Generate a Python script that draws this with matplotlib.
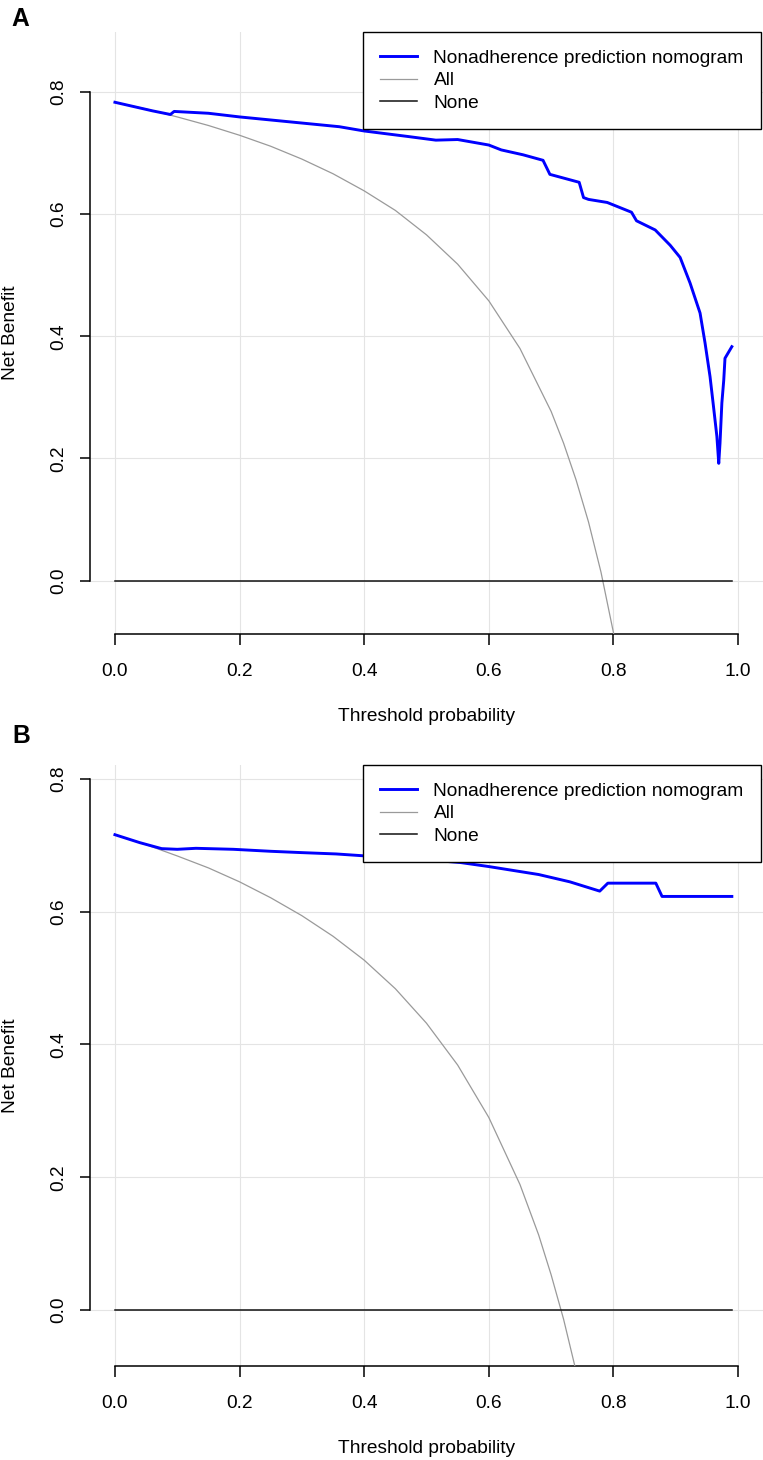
import numpy as np
import matplotlib.pyplot as plt

plt.rcParams['font.family'] = ['Liberation Sans', 'DejaVu Sans']

# Panel A - decision curve values
a_thr = [0.00, 0.03, 0.06, 0.089, 0.095, 0.15, 0.20, 0.28, 0.36, 0.40, 0.47, 0.515,
         0.55, 0.60, 0.62, 0.655, 0.687, 0.698, 0.745, 0.752, 0.76, 0.79, 0.829,
         0.837, 0.867, 0.891, 0.907, 0.923, 0.939, 0.947, 0.955, 0.960, 0.966,
         0.969, 0.971, 0.974, 0.977, 0.979, 0.99]
a_nb = [0.783, 0.776, 0.769, 0.763, 0.768, 0.765, 0.759, 0.751, 0.743, 0.736, 0.727, 0.721,
        0.722, 0.713, 0.705, 0.697, 0.688, 0.665, 0.652, 0.627, 0.624, 0.619, 0.603,
        0.589, 0.574, 0.549, 0.529, 0.487, 0.438, 0.389, 0.334, 0.290, 0.236,
        0.192, 0.225, 0.291, 0.328, 0.364, 0.383]
a_all_thr = [0.00, 0.05, 0.10, 0.15, 0.20, 0.25, 0.30, 0.35, 0.40, 0.45, 0.50, 0.55,
             0.60, 0.65, 0.70, 0.72, 0.74, 0.76, 0.78, 0.80, 0.82]
a_all_nb = [0.783, 0.772, 0.759, 0.745, 0.729, 0.711, 0.690, 0.666, 0.638, 0.606, 0.566, 0.518,
            0.458, 0.380, 0.277, 0.225, 0.165, 0.096, 0.014, -0.085, -0.206]

# Panel B
b_thr = [0.00, 0.04, 0.075, 0.10, 0.13, 0.19, 0.25, 0.30, 0.355, 0.41, 0.49, 0.555,
         0.60, 0.68, 0.73, 0.778, 0.791, 0.868, 0.878, 0.99]
b_nb = [0.716, 0.704, 0.695, 0.694, 0.6955, 0.694, 0.691, 0.689, 0.687, 0.6835, 0.679, 0.674,
        0.668, 0.656, 0.645, 0.631, 0.643, 0.643, 0.623, 0.623]
b_all_thr = [0.00, 0.05, 0.10, 0.15, 0.20, 0.25, 0.30, 0.35, 0.40, 0.45, 0.50, 0.55,
             0.60, 0.65, 0.68, 0.70, 0.72, 0.74]
b_all_nb = [0.716, 0.701, 0.684, 0.666, 0.645, 0.621, 0.594, 0.563, 0.527, 0.484, 0.432, 0.369,
            0.290, 0.189, 0.113, 0.053, -0.014, -0.092]

none_thr = [0.00, 0.99]
none_nb = [0.0, 0.0]

xticks = [0.0, 0.2, 0.4, 0.6, 0.8, 1.0]
yticks = [0.0, 0.2, 0.4, 0.6, 0.8]
label_model = 'Nonadherence prediction nomogram'

W, H = 763, 1460
fig = plt.figure(figsize=(W / 100, H / 100), dpi=100)
FS = 13.8


def panel(top_px, bottom_px, ylim, thr, nb, all_thr, all_nb):
    ax = fig.add_axes([90 / W, 1 - bottom_px / H, (W - 90) / W, (bottom_px - top_px) / H])
    ax.set_xlim(-0.04, 1.04)
    ax.set_ylim(*ylim)
    ax.set_xticks(xticks)
    ax.set_yticks(yticks)
    ax.set_xticklabels([f'{v:.1f}' for v in xticks])
    ax.set_yticklabels([f'{v:.1f}' for v in yticks], rotation=90, va='center')
    ax.grid(True, color='#e4e4e4', lw=0.8)
    ax.set_axisbelow(True)
    for s in ['top', 'right']:
        ax.spines[s].set_visible(False)
    ax.spines['left'].set_bounds(0, 0.8)
    ax.spines['bottom'].set_bounds(0, 1.0)
    ax.spines['left'].set_linewidth(1.1)
    ax.spines['bottom'].set_linewidth(1.1)
    ax.tick_params(axis='x', length=7.8, width=1.1, pad=13, labelsize=FS)
    ax.tick_params(axis='y', length=7.2, width=1.1, pad=9.4, labelsize=FS)

    l1, = ax.plot(thr, nb, color='#0000ff', lw=2.1, zorder=4, label=label_model)
    l2, = ax.plot(all_thr, all_nb, color='#9a9a9a', lw=0.9, zorder=3, label='All')
    l3, = ax.plot(none_thr, none_nb, color='#111111', lw=1.1, zorder=3, label='None')

    ax.set_xlabel('Threshold probability', fontsize=FS, labelpad=20.5)
    ax.set_ylabel('Net Benefit', fontsize=FS, labelpad=22)

    leg = ax.legend(handles=[l1, l2, l3], loc='upper right', bbox_to_anchor=(0.997, 1.0),
                    borderaxespad=0, fontsize=FS, handlelength=1.9, handletextpad=0.87,
                    borderpad=0.9, labelspacing=0.27, fancybox=False, framealpha=1,
                    edgecolor='black')
    leg.get_frame().set_linewidth(1.0)
    leg.set_zorder(10)
    return ax


panel(32, 634, (-0.0873, 0.898), a_thr, a_nb, a_all_thr, a_all_nb)
panel(765, 1366, (-0.0844, 0.821), b_thr, b_nb, b_all_thr, b_all_nb)

fig.text(11.5 / W, 1 - 7 / H, 'A', fontsize=17.7, fontweight='bold', ha='left', va='top')
fig.text(12 / W, 1 - 724 / H, 'B', fontsize=17.7, fontweight='bold', ha='left', va='top')

fig.savefig('out.png', dpi=100)
